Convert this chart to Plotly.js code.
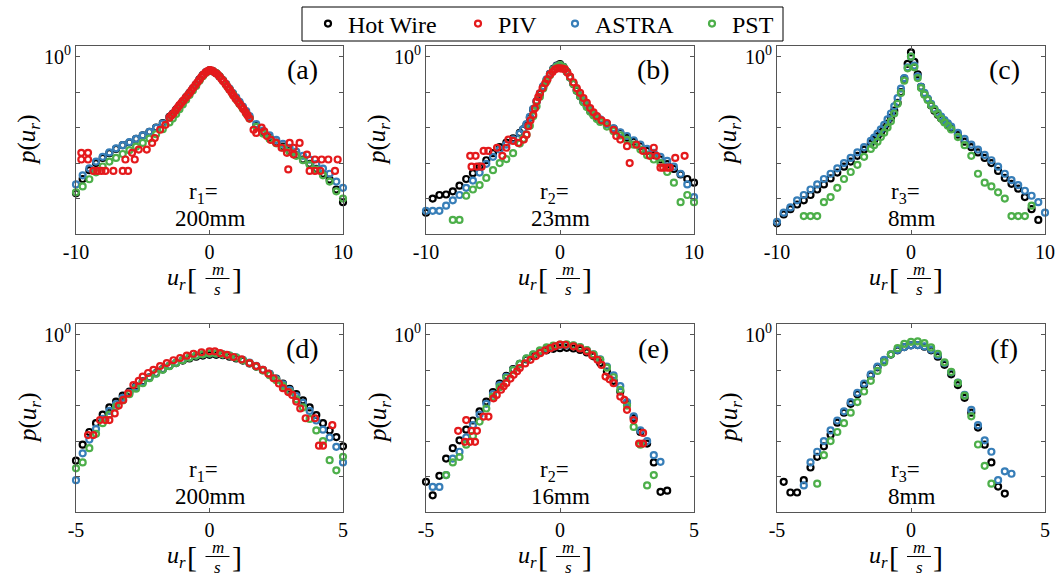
<!DOCTYPE html>
<html>
<head>
<meta charset="utf-8">
<script src="https://cdn.plot.ly/plotly-3.0.1.min.js"></script>
<style>html,body{margin:0;padding:0;background:#fff;}#chart{width:1057px;height:578px;}</style>
</head>
<body>
<div id="chart"></div>
<script>
// ---------------- DATA ----------------
const seriesNames = ['Hot Wire', 'PIV', 'ASTRA', 'PST'];
const panelLabels = ['(a)', '(b)', '(c)', '(d)', '(e)', '(f)'];
const radiusLabels = ['r<sub>1</sub>=', 'r<sub>2</sub>=', 'r<sub>3</sub>=', 'r<sub>1</sub>=', 'r<sub>2</sub>=', 'r<sub>3</sub>='];
const radiusValues = ['200mm', '23mm', '8mm', '200mm', '16mm', '8mm'];
const xTicksTop = [-10, 0, 10];
const xTickTextTop = ['-10', '0', '10'];
const xTicksBottom = [-5, 0, 5];
const xTickTextBottom = ['-5', '0', '5'];
const yTicks = [1e-4, 1e-3, 1e-2, 1e-1, 1];
const yTickText = ['', '', '', '', '10<sup>0</sup>'];

// velocity grid, top row (u_r in m/s)
const X1 = [-10,-9.5,-9,-8.5,-8,-7.5,-7,-6.5,-6,-5.5,-5,-4.5,-4,-3.5,
  -3,-2.75,-2.5,-2.25,-2,-1.75,-1.5,-1.25,-1,-0.75,-0.5,-0.25,0,0.25,0.5,0.75,1,1.25,1.5,1.75,2,2.25,2.5,2.75,3,
  3.5,4,4.5,5,5.5,6,6.5,7,7.5,8,8.5,9,9.5,10];
// velocity grid, bottom row
const X2 = [-5,-4.75,-4.5,-4.25,-4,-3.75,-3.5,-3.25,-3,-2.75,-2.5,-2.25,-2,-1.75,-1.5,-1.25,-1,-0.75,-0.5,-0.25,
  0,0.25,0.5,0.75,1,1.25,1.5,1.75,2,2.25,2.5,2.75,3,3.25,3.5,3.75,4,4.25,4.5,4.75,5];

// ----- panel (a) -----
const HW_a = [1.4e-4,3.55e-4,6.3e-4,1e-3,1.4e-3,1.9e-3,2.5e-3,3.2e-3,3.8e-3,4.8e-3,6.0e-3,7.6e-3,1.0e-2,1.35e-2,
  2.0e-2,2.5e-2,3.2e-2,4.2e-2,5.5e-2,7.2e-2,9.5e-2,0.126,0.166,0.23,0.30,0.37,0.41,0.39,0.34,0.275,0.214,0.162,0.12,0.089,0.066,0.049,0.0355,0.026,0.019,
  0.0112,7.4e-3,5.2e-3,3.8e-3,2.9e-3,2.2e-3,1.66e-3,1.26e-3,9.5e-4,6.9e-4,5.0e-4,3.4e-4,1.8e-4,7.9e-5];
const ASTRA_a = [2.5e-4,4.5e-4,7.1e-4,1.1e-3,1.5e-3,2.0e-3,2.6e-3,3.2e-3,3.9e-3,4.8e-3,6.0e-3,7.6e-3,9.8e-3,1.3e-2,
  1.9e-2,2.4e-2,3.1e-2,4.1e-2,5.4e-2,7.0e-2,9.3e-2,0.123,0.163,0.225,0.295,0.365,0.40,0.385,0.34,0.28,0.22,0.168,0.126,0.094,0.071,0.053,0.039,0.029,0.021,
  0.0126,8.3e-3,6.0e-3,4.5e-3,3.5e-3,2.7e-3,2.1e-3,1.6e-3,1.25e-3,9.3e-4,7.0e-4,5.0e-4,3.0e-4,2.0e-4];
const PST_a = [1.5e-4,2.2e-4,3.5e-4,5.5e-4,8.0e-4,1.1e-3,1.4e-3,1.8e-3,2.3e-3,2.9e-3,3.7e-3,4.9e-3,6.5e-3,9.0e-3,
  1.4e-2,1.8e-2,2.4e-2,3.3e-2,4.5e-2,6.1e-2,8.3e-2,0.112,0.15,0.21,0.28,0.355,0.40,0.39,0.345,0.28,0.215,0.16,0.118,0.086,0.063,0.046,0.034,0.025,0.018,
  0.0105,6.8e-3,4.8e-3,3.6e-3,2.7e-3,2.1e-3,1.6e-3,1.2e-3,9.0e-4,6.5e-4,4.5e-4,3.0e-4,1.6e-4,1.0e-4];
const PIV_a_x = [-9.6,-9.6,-9.1,-9.1,-8.7,-8.4,-8.1,-7.8,-7.2,-6.5,-6.1,-6.3,-5.8,-5.6,-5.3,-4.7,-4.3,-4.1,-3.7,-3.3,
  -3.0,-2.85,-2.7,-2.55,-2.4,-2.25,-2.1,-1.95,-1.8,-1.65,-1.5,-1.35,-1.2,-1.05,-0.9,-0.75,-0.6,-0.45,-0.3,-0.15,
  0,0.15,0.3,0.45,0.6,0.75,0.9,1.05,1.2,1.35,1.5,1.65,1.8,1.95,2.1,2.25,2.4,2.55,2.7,2.85,
  3.0,3.3,3.5,3.9,4.1,4.3,4.6,5.0,5.4,5.8,5.9,6.0,6.3,6.3,6.75,7.3,7.5,7.9,7.9,8.3,8.4,8.9,9.4,9.6];
const PIV_a_y = [1.95e-3,1.26e-3,1.95e-3,1.26e-3,6.0e-4,6.0e-4,6.0e-4,6.0e-4,6.0e-4,6.0e-4,6.0e-4,1.26e-3,1.95e-3,1.26e-3,2.4e-3,2.4e-3,3.7e-3,5.1e-3,8.7e-3,1.2e-2,
  1.9e-2,2.2e-2,2.5e-2,3.0e-2,3.6e-2,4.3e-2,5.0e-2,5.8e-2,6.8e-2,8.0e-2,9.3e-2,0.112,0.135,0.16,0.19,0.225,0.27,0.31,0.355,0.39,
  0.42,0.41,0.38,0.345,0.32,0.275,0.235,0.2,0.17,0.14,0.117,0.097,0.079,0.066,0.056,0.047,0.040,0.033,0.027,0.022,
  0.018,8.7e-3,7.1e-3,1.0e-2,7.9e-3,5.8e-3,4.5e-3,3.7e-3,2.7e-3,1.95e-3,6.6e-4,3.7e-3,2.7e-3,1.74e-3,3.7e-3,1.74e-3,6.0e-4,1.26e-3,6.0e-4,6.0e-4,1.26e-3,1.26e-3,6.0e-4,1.26e-3];

// ----- panel (b) -----
const HW_b = [4.0e-5,1.0e-4,1.26e-4,1.3e-4,1.6e-4,2.3e-4,3.55e-4,5.2e-4,7.9e-4,1.2e-3,1.9e-3,2.8e-3,3.8e-3,5.0e-3,
  7.1e-3,8.9e-3,1.2e-2,1.9e-2,3.2e-2,5.4e-2,8.9e-2,0.14,0.22,0.33,0.45,0.56,0.62,0.52,0.38,0.26,0.17,0.11,0.076,0.054,0.040,0.030,0.023,0.019,0.0166,
  0.0126,9.3e-3,7.1e-3,5.2e-3,4.0e-3,3.0e-3,2.2e-3,1.66e-3,1.26e-3,9.3e-4,6.8e-4,4.8e-4,3.55e-4,2.8e-4];
const ASTRA_b = [4.5e-5,4.5e-5,4.5e-5,6.3e-5,8.9e-5,1.26e-4,2.0e-4,3.2e-4,5.4e-4,9.5e-4,1.5e-3,2.4e-3,3.3e-3,4.7e-3,
  6.8e-3,8.9e-3,1.26e-2,2.0e-2,3.4e-2,5.6e-2,9.3e-2,0.148,0.23,0.33,0.44,0.54,0.575,0.51,0.38,0.26,0.178,0.117,0.081,0.0575,0.0427,0.0324,0.025,0.0204,0.017,
  0.0126,9.5e-3,7.4e-3,5.8e-3,4.4e-3,3.3e-3,2.5e-3,1.95e-3,1.5e-3,1.15e-3,7.9e-4,5.0e-4,2.5e-4,1.1e-4];
const PST_b = [null,null,null,null,2.5e-5,2.5e-5,1.2e-4,1.8e-4,2.4e-4,3.8e-4,6.3e-4,1.0e-3,1.3e-3,1.9e-3,
  3.55e-3,4.8e-3,6.3e-3,1.12e-2,2.1e-2,4.0e-2,7.4e-2,0.126,0.2,0.3,0.42,0.52,0.575,0.51,0.38,0.257,0.17,0.112,0.076,0.052,0.038,0.028,0.022,0.0174,0.0145,
  0.0107,7.9e-3,6.0e-3,4.5e-3,3.3e-3,2.4e-3,1.66e-3,1.26e-3,1.0e-3,5.6e-4,2.8e-4,7.9e-5,1.26e-4,7.9e-5];
const PIV_b_x = [-6.7,-6.3,-6.6,-6.2,-5.85, -5.7,-5.35,-4.7,-4.3,-4.0, -3.85,-3.5,-3.1,-2.7,-2.5, -2.36,-2.2,-2.0,-1.87,-1.74,
  -1.62,-1.5,-1.3,-1.1,-0.93, -0.75,-0.56,-0.37,-0.18,0, 0.18,0.37,0.56,0.75,1.0, 1.25,1.5,1.75,2.0,2.25,
  2.5,2.75,3.1,3.5,4.0, 4.2,4.5,5.0,5.2,5.7, 6.2,6.7,7.0,7.2,7.5, 7.7,8.0,8.2,8.6,9.3];
const PIV_b_y = [1.6e-3,1.6e-3,7.9e-4,7.9e-4,7.9e-4, 2.2e-3,2.2e-3,2.7e-3,1.6e-3,2.7e-3, 4.6e-3,4.2e-3,3.7e-3,4.6e-3,6.3e-3, 1.1e-2,1.6e-2,2.3e-2,3.5e-2,5.5e-2,
  7.2e-2,9.3e-2,0.13,0.178,0.23, 0.31,0.37,0.44,0.47,0.47, 0.46,0.44,0.35,0.275,0.19, 0.129,0.095,0.068,0.05,0.0355,
  0.027,0.021,0.016,0.0135,8.7e-3, 5.8e-3,4.6e-3,3.0e-3,1.0e-3,3.3e-3, 2.2e-3,1.6e-3,2.7e-3,1.6e-3,7.4e-4, 7.4e-4,7.4e-4,7.4e-4,1.4e-3,1.6e-3];

// ----- panel (c) -----
const HW_c = [2.0e-5,3.55e-5,5.0e-5,6.8e-5,8.9e-5,1.26e-4,1.8e-4,2.5e-4,3.7e-4,5.4e-4,7.9e-4,1.1e-3,1.6e-3,2.4e-3,
  3.6e-3,4.5e-3,5.6e-3,7.2e-3,9.5e-3,1.3e-2,1.9e-2,3.0e-2,5.0e-2,0.1,0.24,0.63,1.32,0.71,0.32,0.14,0.089,0.063,0.042,0.030,0.023,0.018,0.0145,0.012,9.5e-3,
  6.3e-3,4.0e-3,2.8e-3,2.0e-3,1.4e-3,1.0e-3,6.0e-4,3.8e-4,2.6e-4,1.9e-4,1.1e-4,5.0e-5,2.5e-5,null];
const ASTRA_c = [2.2e-5,4.0e-5,5.6e-5,8.9e-5,1.26e-4,1.8e-4,2.5e-4,3.55e-4,5.0e-4,7.1e-4,1.0e-3,1.4e-3,2.0e-3,2.8e-3,
  4.2e-3,5.2e-3,6.8e-3,8.9e-3,1.2e-2,1.7e-2,2.5e-2,4.0e-2,6.8e-2,0.126,0.25,0.5,1.0,0.56,0.28,0.14,0.095,0.066,0.047,0.034,0.026,0.0204,0.0162,0.0132,0.0107,
  7.1e-3,4.8e-3,3.3e-3,2.4e-3,1.7e-3,1.2e-3,7.9e-4,5.0e-4,3.3e-4,2.4e-4,1.66e-4,1.2e-4,7.9e-5,4.0e-5];
const PST_c = [null,null,null,null,3.2e-5,3.2e-5,3.2e-5,7.9e-5,1.1e-4,2.0e-4,3.55e-4,5.6e-4,8.9e-4,1.5e-3,
  2.5e-3,3.2e-3,4.0e-3,5.4e-3,7.2e-3,1.0e-2,1.5e-2,2.5e-2,4.7e-2,9.5e-2,0.21,0.47,1.0,0.5,0.25,0.13,0.085,0.06,0.043,0.032,0.024,0.018,0.014,0.0112,8.9e-3,
  5.4e-3,3.2e-3,1.6e-3,5.0e-4,2.8e-4,2.2e-4,1.5e-4,1.0e-4,3.2e-5,3.2e-5,3.2e-5,6.3e-5,null,null];

// ----- panel (d) -----
const HW_d = [2.8e-4,7.9e-4,1.8e-3,3.2e-3,5.6e-3,8.9e-3,1.3e-2,1.9e-2,2.5e-2,3.5e-2,4.8e-2,6.3e-2,8.3e-2,0.107,0.132,0.158,0.186,0.214,0.24,0.257,
  0.27,0.27,0.263,0.24,0.214,0.186,0.155,0.126,0.1,0.078,0.0575,0.042,0.0295,0.021,0.014,8.9e-3,5.4e-3,3.2e-3,2.0e-3,1.3e-3,7.1e-4];
const ASTRA_d = [7.9e-5,4.5e-4,1.1e-3,2.2e-3,4.2e-3,7.1e-3,1.1e-2,1.66e-2,2.3e-2,3.3e-2,4.6e-2,6.2e-2,8.1e-2,0.105,0.132,0.162,0.195,0.23,0.257,0.28,
  0.295,0.295,0.28,0.257,0.23,0.195,0.162,0.132,0.102,0.078,0.056,0.04,0.0275,0.0186,0.012,7.1e-3,3.8e-3,2.1e-3,1.26e-3,6.9e-4,2.5e-4];
const PST_d = [1.7e-4,2.5e-4,6.3e-4,1.6e-3,3.2e-3,5.6e-3,9.3e-3,1.4e-2,2.1e-2,3.0e-2,4.3e-2,5.9e-2,7.9e-2,0.102,0.129,0.158,0.19,0.224,0.257,0.28,
  0.295,0.295,0.28,0.257,0.224,0.19,0.158,0.126,0.098,0.072,0.052,0.036,0.024,0.015,8.9e-3,4.2e-3,2.0e-3,1.0e-3,2.9e-4,1.5e-4,3.6e-4];
const PIV_d_x = [-4.55,-4.35,-4.1,-3.9,-3.75, -3.55,-3.4,-3.23,-3.05,-2.85, -2.65,-2.5,-2.3,-2.1,-1.85, -1.6,-1.35,-1.1,-0.85,-0.6,
  -0.3,0,0.2,0.4,0.65, 0.9,1.2,1.5,1.75,2.0, 2.2,2.4,2.6,2.75,2.95, 3.1,3.25,3.4,3.6,3.95, 4.1,4.25,4.6];
const PIV_d_y = [1.48e-3,1.48e-3,3.9e-3,3.9e-3,3.9e-3, 6.0e-3,1.0e-2,1.45e-2,2.2e-2,3.8e-2, 5.0e-2,6.6e-2,8.3e-2,0.102,0.13, 0.158,0.19,0.22,0.255,0.29,
  0.32,0.34,0.34,0.30,0.27, 0.235,0.2,0.158,0.13,0.102, 0.08,0.059,0.042,0.031,0.024, 0.02,0.013,8.3e-3,4.4e-3,4.4e-3, 7.4e-4,7.4e-4,2.8e-3];

// ----- panel (e) -----
const HW_e = [7.1e-5,2.95e-5,1.05e-4,3.2e-4,6.3e-4,1.05e-3,2.1e-3,3.8e-3,6.9e-3,1.3e-2,2.4e-2,4.2e-2,6.9e-2,0.107,0.151,0.2,0.25,0.31,0.363,0.4,
  0.417,0.427,0.407,0.37,0.316,0.245,0.158,0.091,0.05,0.025,0.0117,4.5e-3,1.8e-3,8.5e-4,2.5e-4,3.7e-5,4.0e-5,null,null,null,null];
const ASTRA_e = [null,5.1e-5,5.1e-5,1.1e-4,3.2e-4,5.0e-4,1.26e-3,2.8e-3,5.6e-3,1.12e-2,2.1e-2,3.8e-2,6.5e-2,0.102,0.151,0.21,0.275,0.347,0.417,0.468,
  0.5,0.51,0.49,0.437,0.363,0.28,0.2,0.126,0.071,0.0355,0.0125,5.0e-3,2.0e-3,1.0e-3,4.0e-4,2.6e-4,null,null,null,null,null];
const PST_e = [null,null,null,1.1e-4,2.5e-4,3.55e-4,7.9e-4,1.4e-3,3.55e-3,8.3e-3,1.8e-2,3.3e-2,6.0e-2,0.1,0.151,0.214,0.28,0.363,0.437,0.49,
  0.525,0.537,0.5,0.447,0.37,0.28,0.195,0.117,0.063,0.028,0.01,2.5e-3,7.9e-4,5.6e-5,1.1e-4,null,null,null,null,null,null];
const PIV_e_x = [-3.8,-3.55,-3.5,-3.35,-3.17, -3.3,-3.1,-2.85,-2.67,-2.48, -2.36,-2.2,-2.1,-2.0,-1.85, -1.73,-1.6,-1.5,-1.3,-1.1,
  -0.9,-0.74,-0.55,-0.36,-0.18, 0,0.2,0.5,0.75,1.0, 1.2,1.4,1.55,1.7,1.85, 2.0,2.25,2.4,2.5,2.75, 2.95,3.1,3.1];
const PIV_e_y = [1.95e-3,9.5e-4,3.9e-3,9.5e-4,9.5e-4, 1.95e-3,1.95e-3,4.9e-3,4.9e-3,1.6e-2, 2.0e-2,2.8e-2,3.5e-2,4.3e-2,5.8e-2, 7.4e-2,9.3e-2,0.115,0.155,0.195,
  0.25,0.30,0.36,0.417,0.47, 0.525,0.52,0.468,0.41,0.34, 0.26,0.195,0.14,0.066,0.055, 0.043,0.018,0.0145,7.6e-3,3.9e-3, 8.5e-4,8.5e-4,1.7e-3];

// ----- panel (f) -----
const HW_f = [null,7.1e-5,3.55e-5,3.55e-5,7.9e-5,1.8e-4,3.6e-4,7.1e-4,1.5e-3,3.3e-3,6.3e-3,1.12e-2,2.1e-2,3.8e-2,7.1e-2,0.12,0.19,0.275,0.363,0.447,
  0.5,0.51,0.457,0.363,0.24,0.141,0.076,0.038,0.0166,6.3e-3,2.4e-3,7.9e-4,2.5e-4,5.2e-5,3.3e-5,null,null,null,null,null,null];
const ASTRA_f = [null,null,null,null,5.6e-5,2.5e-4,5.0e-4,1.0e-3,2.0e-3,3.8e-3,6.9e-3,1.26e-2,2.3e-2,4.2e-2,7.6e-2,0.126,0.195,0.28,0.37,0.447,
  0.5,0.51,0.468,0.38,0.263,0.158,0.087,0.0447,0.02,7.6e-3,2.8e-3,1.05e-3,5.0e-4,7.9e-5,1.4e-4,1.2e-4,null,null,null,null,null];
const PST_f = [null,null,null,null,null,null,6.3e-5,4.0e-4,1.0e-3,1.8e-3,3.2e-3,6.3e-3,1.26e-2,2.5e-2,5.0e-2,9.5e-2,0.166,0.28,0.417,0.55,
  0.63,0.645,0.575,0.437,0.29,0.166,0.089,0.0437,0.019,5.0e-3,8.0e-4,2.0e-4,6.3e-5,null,null,null,null,null,null,null,null];

// ---------------- PANELS ----------------
const panels = [
  {x: X1, hw: HW_a, astra: ASTRA_a, pst: PST_a, pivx: PIV_a_x, pivy: PIV_a_y},
  {x: X1, hw: HW_b, astra: ASTRA_b, pst: PST_b, pivx: PIV_b_x, pivy: PIV_b_y},
  {x: X1, hw: HW_c, astra: ASTRA_c, pst: PST_c, pivx: null, pivy: null},
  {x: X2, hw: HW_d, astra: ASTRA_d, pst: PST_d, pivx: PIV_d_x, pivy: PIV_d_y},
  {x: X2, hw: HW_e, astra: ASTRA_e, pst: PST_e, pivx: PIV_e_x, pivy: PIV_e_y},
  {x: X2, hw: HW_f, astra: ASTRA_f, pst: PST_f, pivx: null, pivy: null}
];

// ---------------- STYLE / LAYOUT ----------------
const W = 1057, H = 578;
const FONT = 'Liberation Serif';
const COLORS = {hw: '#000000', piv: '#e41a1c', astra: '#377eb8', pst: '#4daf4a'};
const colsPx = [[76, 343], [426, 694], [777, 1045]];
const rowsPx = [[46, 234], [324, 512]];
const fx = p => p / W;
const fy = p => 1 - p / H;

function mk(color) {
  return {symbol: 'circle-open', size: 6, color: color, line: {width: 2.2, color: color}};
}

const traces = [];
const layout = {
  width: W, height: H,
  margin: {l: 0, r: 0, t: 0, b: 0},
  paper_bgcolor: '#ffffff', plot_bgcolor: '#ffffff',
  font: {family: FONT, color: '#000'},
  showlegend: true,
  annotations: [],
  shapes: [{type: 'rect', xref: 'paper', yref: 'paper', x0: fx(302), x1: fx(783), y0: fy(41), y1: fy(7),
            line: {color: '#000', width: 1}, fillcolor: 'rgba(0,0,0,0)'}]
};
// one legend per series, placed where the reference shows each entry
const legendDots = {hw: 328, piv: 478, astra: 575, pst: 712};
const legendIds = {hw: 'legend', piv: 'legend2', astra: 'legend3', pst: 'legend4'};
Object.keys(legendIds).forEach(k => {
  layout[legendIds[k]] = {
    orientation: 'h', x: fx(legendDots[k] - 20), xanchor: 'left', y: fy(24), yanchor: 'middle',
    bgcolor: 'rgba(0,0,0,0)', borderwidth: 0,
    font: {family: FONT, size: 24, color: '#000'}, itemwidth: 30
  };
});

panels.forEach((p, i) => {
  const row = Math.floor(i / 3), col = i % 3;
  const n = i === 0 ? '' : String(i + 1);
  const xa = 'x' + n, ya = 'y' + n;
  const common = {type: 'scatter', mode: 'markers', xaxis: xa, yaxis: ya, cliponaxis: false, hoverinfo: 'skip'};
  traces.push(Object.assign({}, common, {x: p.x, y: p.hw, name: seriesNames[0], legend: legendIds.hw, showlegend: i === 0, marker: mk(COLORS.hw)}));
  traces.push(Object.assign({}, common, {x: p.x, y: p.astra, name: seriesNames[2], legend: legendIds.astra, showlegend: i === 0, marker: mk(COLORS.astra)}));
  traces.push(Object.assign({}, common, {x: p.x, y: p.pst, name: seriesNames[3], legend: legendIds.pst, showlegend: i === 0, marker: mk(COLORS.pst)}));
  if (p.pivx) {
    traces.push(Object.assign({}, common, {x: p.pivx, y: p.pivy, name: seriesNames[1], legend: legendIds.piv, showlegend: i === 0, marker: mk(COLORS.piv)}));
  }

  const [x0, x1] = colsPx[col];
  const [y0, y1] = rowsPx[row];
  const axisCommon = {
    showline: true, linecolor: '#555', linewidth: 1, mirror: 'ticks',
    ticks: 'inside', ticklen: 4, tickcolor: '#555', tickwidth: 1,
    showgrid: false, zeroline: false, fixedrange: true,
    tickfont: {family: FONT, size: 20, color: '#000'}
  };
  layout['xaxis' + n] = Object.assign({}, axisCommon, {
    domain: [fx(x0), fx(x1)], anchor: ya,
    range: row === 0 ? [-10, 10] : [-5, 5],
    tickmode: 'array',
    tickvals: row === 0 ? xTicksTop : xTicksBottom,
    ticktext: row === 0 ? xTickTextTop : xTickTextBottom
  });
  layout['yaxis' + n] = Object.assign({}, axisCommon, {
    domain: [fy(y1), fy(y0)], anchor: xa, type: 'log',
    range: [-5, Math.log10(2)],
    tickmode: 'array', tickvals: yTicks, ticktext: yTickText
  });

  const cx = (x0 + x1) / 2;
  const A = (text, xp, yp, size, extra) => Object.assign({
    text: text, x: fx(xp), y: fy(yp), xref: 'paper', yref: 'paper', showarrow: false,
    xanchor: 'center', yanchor: 'middle', font: {family: FONT, size: size, color: '#000'}
  }, extra || {});
  // panel label
  layout.annotations.push(A(panelLabels[i], x1 - 41, y0 + 24, 28));
  // radius text
  layout.annotations.push(A(radiusLabels[i], cx - 6, y0 + 147, 23));
  layout.annotations.push(A(radiusValues[i], cx, y0 + 172, 23));
  // y axis title
  layout.annotations.push(A('<i>p</i>(<i>u<sub>r</sub></i>)', x0 - 47, (y0 + y1) / 2, 25, {textangle: -90}));
  // x axis title with fraction
  layout.annotations.push(A('<i>u<sub>r</sub></i>', cx - 33, y1 + 45, 24));
  layout.annotations.push(A('[', cx - 17, y1 + 44, 30));
  layout.annotations.push(A(']', cx + 27, y1 + 44, 30));
  layout.annotations.push(A('<i>m</i>', cx + 8, y1 + 35, 17));
  layout.annotations.push(A('<i>s</i>', cx + 8, y1 + 55, 17));
  layout.shapes.push({type: 'line', xref: 'paper', yref: 'paper',
    x0: fx(cx - 4), x1: fx(cx + 20), y0: fy(y1 + 44.5), y1: fy(y1 + 44.5),
    line: {color: '#000', width: 1}});
});

Plotly.newPlot('chart', traces, layout, {staticPlot: true, displayModeBar: false});
</script>
</body>
</html>
